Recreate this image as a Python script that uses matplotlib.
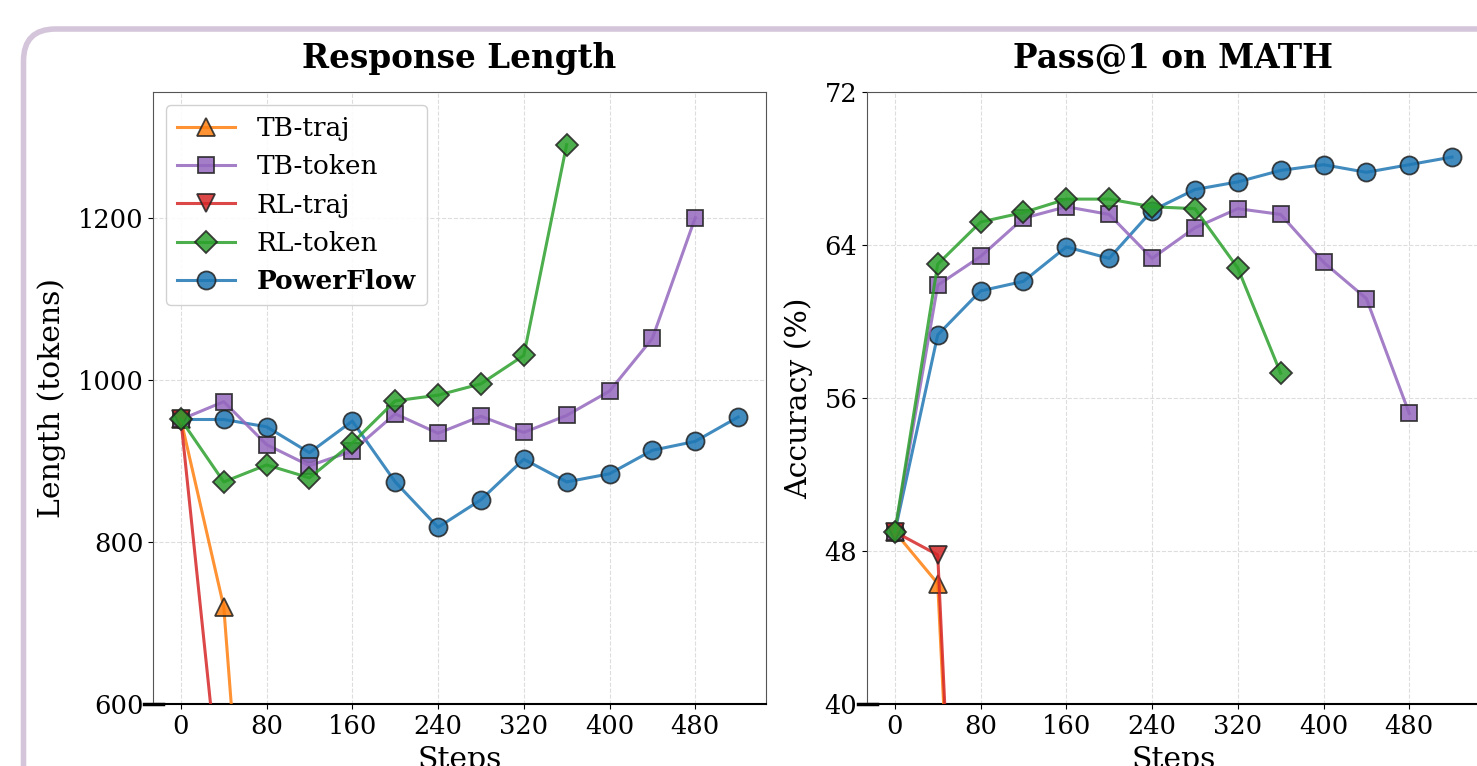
import numpy as np
import matplotlib
matplotlib.use("Agg")
import matplotlib.pyplot as plt
from matplotlib.patches import FancyBboxPatch
from matplotlib.lines import Line2D

plt.rcParams['font.family'] = ['DejaVu Serif']

# steps (every 40)
steps = np.arange(0, 560, 40)

# Response length (tokens)
len_tb_traj = [951, 720, 34]
len_tb_token = [951, 973, 920, 894, 912, 958, 934, 955, 935, 956, 986, 1051, 1200]
len_rl_traj = [951, 444]
len_rl_token = [951, 874, 895, 879, 922, 974, 981, 995, 1030, 1290]
len_powerflow = [951, 951, 942, 910, 949, 874, 818, 852, 902, 874, 884, 913, 924, 954]

# Pass@1 on MATH (%)
acc_tb_traj = [49.0, 46.3, 0.5]
acc_tb_token = [49.0, 61.9, 63.4, 65.4, 66.0, 65.6, 63.3, 64.9, 65.9, 65.6, 63.1, 61.2, 55.2]
acc_rl_traj = [49.0, 47.8, 0.0]
acc_rl_token = [49.0, 63.0, 65.2, 65.7, 66.4, 66.4, 66.0, 65.9, 62.8, 57.3]
acc_powerflow = [49.0, 59.3, 61.6, 62.1, 63.9, 63.3, 65.8, 66.9, 67.3, 67.9, 68.2, 67.8, 68.2, 68.6]

labels = ['TB-traj', 'TB-token', 'RL-traj', 'RL-token', 'PowerFlow']
colors = ['#ff7f0e', '#9467bd', '#d62728', '#2ca02c', '#1f77b4']
markers = ['^', 's', 'v', 'D', 'o']
msizes = [13, 12, 13, 11, 13]
zorders = [3, 3, 3, 3, 2]

fig = plt.figure(figsize=(14.77, 7.66), dpi=100)

# rounded frame around the panel
frame = FancyBboxPatch((0.235, -1.0), 16.0, 8.37, boxstyle="round,pad=0,rounding_size=0.32",
                       transform=fig.dpi_scale_trans, fill=False, edgecolor='#d5c5db',
                       linewidth=4, zorder=0)
fig.patches.append(frame)

ax1 = fig.add_axes([0.1036, 0.0809, 0.415, 0.799])
ax2 = fig.add_axes([0.587, 0.0809, 0.415, 0.799])


def draw(ax, series, title, ylabel, ylim, yticks):
    for i, ys in enumerate(series):
        ax.plot(steps[:len(ys)], ys, color=colors[i], marker=markers[i], markersize=msizes[i],
                markeredgecolor='#222222', markeredgewidth=1.3, linewidth=2.2, alpha=0.85,
                label=labels[i], zorder=zorders[i])
    ax.set_xlim(-26, 546)
    ax.set_ylim(*ylim)
    ax.set_xticks(range(0, 481, 80))
    ax.set_yticks(yticks)
    ax.tick_params(labelsize=18.5)
    ax.grid(True, linestyle='--', color='#dddddd', linewidth=0.8)
    ax.set_axisbelow(True)
    for s in ['left', 'top', 'right']:
        ax.spines[s].set_color('#555555')
    ax.spines['bottom'].set_color('black')
    ax.spines['bottom'].set_linewidth(1.5)
    ax.add_line(Line2D([-0.014, 0.016], [0, 0], transform=ax.transAxes, color='black',
                       linewidth=2.5, clip_on=False))
    ax.set_title(title, fontsize=23.5, fontweight='bold', pad=17)
    ax.set_ylabel(ylabel, fontsize=21.5, labelpad=8)
    ax.set_xlabel('Steps', fontsize=21.5, labelpad=5)


draw(ax1, [len_tb_traj, len_tb_token, len_rl_traj, len_rl_token, len_powerflow],
     'Response Length', 'Length (tokens)', (600, 1355), [600, 800, 1000, 1200])
draw(ax2, [acc_tb_traj, acc_tb_token, acc_rl_traj, acc_rl_token, acc_powerflow],
     'Pass@1 on MATH', 'Accuracy (%)', (40, 72), [40, 48, 56, 64, 72])

leg = ax1.legend(loc='upper left', fontsize=19, framealpha=0.9, edgecolor='#cccccc',
                 handlelength=2.2, borderpad=0.42, labelspacing=0.5)
leg.get_texts()[-1].set_fontweight('bold')

fig.savefig('out.png', dpi=100)
